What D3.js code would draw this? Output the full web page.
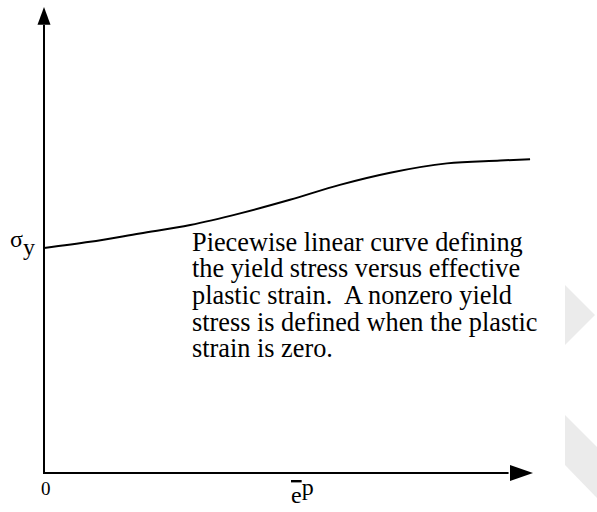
<!DOCTYPE html>
<html>
<head>
<meta charset="utf-8">
<script src="https://cdn.jsdelivr.net/npm/d3@7"></script>
<style>
  html, body { margin: 0; padding: 0; background: #fff; }
  svg { display: block; }
  text { font-family: "Liberation Serif", "Times New Roman", serif; fill: #000; }
</style>
</head>
<body>
<script>
// Effective plastic strain (abstract units, 0..100 along the axis)
const strain = [0, 9.4, 19.6, 29.9, 40.1, 50.3, 60.5, 70.8, 82.4, 93.3, 99.4];
// Yield stress (abstract units, 0..100 up the axis)
const yieldStress = [48.2, 49.5, 51.3, 53.1, 55.6, 58.5, 61.7, 64.3, 66.3, 66.9, 67.2];
const xTickLabels = ["0"];
const annotationLines = [
  "Piecewise linear curve defining",
  "the yield stress versus effective",
  "plastic strain.  A nonzero yield",
  "stress is defined when the plastic",
  "strain is zero."
];

const W = 597, H = 512;
const svg = d3.select("body").append("svg").attr("width", W).attr("height", H);

const x = d3.scaleLinear().domain([0, 100]).range([44, 533]);
const y = d3.scaleLinear().domain([0, 100]).range([473, 6]);

// decorative light-grey shapes at the right edge
svg.append("path").attr("d", "M565,285 L595,315 L565,345 Z").attr("fill", "#ebebeb");
svg.append("path").attr("d", "M565,415 L597,447 L597,498 L565,465 Z").attr("fill", "#ebebeb");

// axes
const axisG = svg.append("g");
axisG.append("line")
  .attr("x1", x(0)).attr("x2", x(0))
  .attr("y1", y(0)).attr("y2", y(96))
  .attr("stroke", "#000").attr("stroke-width", 2);
axisG.append("path")
  .attr("d", `M${x(0)},${y(100) + 1} L${x(0) + 6.5},${y(96)} L${x(0) - 6.5},${y(96)} Z`)
  .attr("fill", "#000");
axisG.append("line")
  .attr("x1", x(0) - 1).attr("x2", x(95))
  .attr("y1", y(0)).attr("y2", y(0))
  .attr("stroke", "#000").attr("stroke-width", 2);
axisG.append("path")
  .attr("d", `M${x(100)},${y(0)} L${x(95.3)},${y(0) - 8} L${x(95.3)},${y(0) + 8} Z`)
  .attr("fill", "#000");

// curve
const pts = strain.map((s, i) => [s, yieldStress[i]]);
svg.append("path")
  .datum(pts)
  .attr("fill", "none")
  .attr("stroke", "#000")
  .attr("stroke-width", 2)
  .attr("d", d3.line().x(d => x(d[0])).y(d => y(d[1])).curve(d3.curveMonotoneX));

// tick label "0"
svg.append("text")
  .attr("x", x(0) - 3).attr("y", 495)
  .attr("font-size", 19)
  .text(xTickLabels[0]);

// x-axis label: e-bar with superscript p
const xl = svg.append("text").attr("x", 291).attr("y", 503).attr("font-size", 24);
xl.append("tspan").attr("text-decoration", "overline").text("e");
xl.append("tspan").attr("dy", -8).text("p");

// y label: sigma with subscript y
const yl = svg.append("text").attr("x", 10).attr("y", 247).attr("font-size", 24);
yl.append("tspan").text("σ");
yl.append("tspan").attr("dy", 8).text("y");

// annotation
const ann = svg.append("text").attr("font-size", 26.3);
annotationLines.forEach((t, i) => {
  ann.append("tspan").attr("x", 192).attr("y", 250.5 + i * 26.7)
    .attr("xml:space", "preserve").style("white-space", "pre").text(t);
});
</script>
</body>
</html>
